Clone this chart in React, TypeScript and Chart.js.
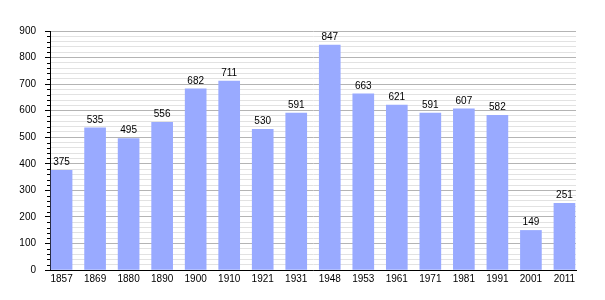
import React, { useEffect, useRef } from "react";
import { Chart, registerables } from "chart.js";

Chart.register(...registerables);

const years = ["1857", "1869", "1880", "1890", "1900", "1910", "1921", "1931", "1948", "1953", "1961", "1971", "1981", "1991", "2001", "2011"];
const population = [375, 535, 495, 556, 682, 711, 530, 591, 847, 663, 621, 591, 607, 582, 149, 251];
const yMax = 900;
const yMinorStep = 20;
const yMajorStep = 100;

const FONT = "'Liberation Sans', Arial, Helvetica, sans-serif";

export default function App() {
  const ref = useRef<HTMLCanvasElement | null>(null);

  useEffect(() => {
    document.body.style.margin = "0";
    const canvas = ref.current;
    if (!canvas) return;

    const valueLabels = {
      id: "valueLabels",
      afterDatasetsDraw(chart: any) {
        const ctx = chart.ctx;
        const meta = chart.getDatasetMeta(0);
        ctx.save();
        ctx.font = `10px ${FONT}`;
        ctx.fillStyle = "#000";
        ctx.textAlign = "center";
        ctx.textBaseline = "bottom";
        meta.data.forEach((el: any, i: number) => {
          ctx.fillText(String(population[i]), el.x, el.y - 3);
        });
        ctx.restore();
      },
    };

    const minorTicks = {
      id: "minorTicks",
      afterDraw(chart: any) {
        const y = chart.scales.y;
        const ctx = chart.ctx;
        ctx.save();
        ctx.strokeStyle = "#000";
        ctx.lineWidth = 1;
        ctx.beginPath();
        for (let v = 0; v <= yMax; v += yMinorStep) {
          if (v % yMajorStep === 0) continue;
          const py = Math.round(y.getPixelForValue(v)) + 0.5;
          ctx.moveTo(y.right - 3, py);
          ctx.lineTo(y.right, py);
        }
        ctx.stroke();
        ctx.restore();
      },
    };

    const chart = new Chart(canvas, {
      type: "bar",
      data: {
        datasets: [
          {
            data: population.map((v, i) => ({ x: i, y: v })),
            backgroundColor: "#99aaff",
            borderWidth: 0,
            barThickness: 21,
          },
        ],
      },
      options: {
        animation: false,
        responsive: false,
        maintainAspectRatio: false,
        layout: { padding: { top: 31, right: 29, bottom: 0, left: 0 } },
        plugins: {
          legend: { display: false },
          tooltip: { enabled: false },
        },
        scales: {
          x: {
            type: "linear",
            offset: false,
            min: -0.345,
            max: years.length - 1 + 0.345,
            afterBuildTicks: (scale: any) => {
              scale.ticks = years.map((_, i) => ({ value: i }));
            },
            afterFit: (scale: any) => {
              scale.height = 30;
            },
            grid: { display: false, drawTicks: false, offset: false },
            border: { display: true, color: "#000", width: 1 },
            ticks: {
              autoSkip: false,
              maxRotation: 0,
              padding: 3,
              color: "#000",
              font: { family: FONT, size: 10 },
              callback: (v: any) => years[Math.round(Number(v))] ?? "",
            },
          },
          y: {
            type: "linear",
            min: 0,
            max: yMax,
            afterBuildTicks: (scale: any) => {
              const t = [];
              for (let v = 0; v <= yMax; v += yMinorStep) t.push({ value: v });
              scale.ticks = t;
            },
            afterFit: (scale: any) => {
              scale.width = 50;
            },
            grid: {
              color: (c: any) =>
                c.tick && c.tick.value % yMajorStep === 0 ? "#b4b4b4" : "#e2e2e2",
              tickColor: (c: any) =>
                c.tick && c.tick.value % yMajorStep === 0 ? "#000" : "rgba(0,0,0,0)",
              tickLength: 5,
              drawTicks: true,
            },
            border: { display: true, color: "#000", width: 1 },
            ticks: {
              autoSkip: false,
              padding: 9,
              color: "#000",
              font: { family: FONT, size: 10 },
              callback: (v: any) => (Number(v) % yMajorStep === 0 ? String(v) : ""),
            },
          },
        },
      },
      plugins: [valueLabels, minorTicks],
    } as any);

    return () => chart.destroy();
  }, []);

  return (
    <div style={{ position: "absolute", left: 0, top: 0, width: 605, height: 300, background: "#fff" }}>
      <canvas ref={ref} width={605} height={300} style={{ width: 605, height: 300, display: "block" }} />
    </div>
  );
}
